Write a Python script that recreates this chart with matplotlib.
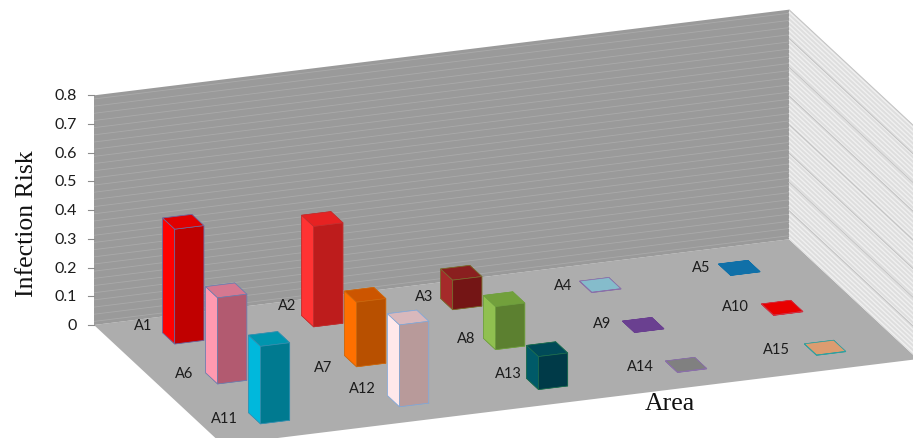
import numpy as np
import matplotlib
matplotlib.use('Agg')
import matplotlib.pyplot as plt
from matplotlib.lines import Line2D
from mpl_toolkits.mplot3d import proj3d
from mpl_toolkits.mplot3d.art3d import Poly3DCollection, Line3DCollection

# rows run back to front as A1-A5, A6-A10, A11-A15
area_labels = [['A1', 'A2', 'A3', 'A4', 'A5'],
               ['A6', 'A7', 'A8', 'A9', 'A10'],
               ['A11', 'A12', 'A13', 'A14', 'A15']]
infection_risk = [[0.40, 0.35, 0.103, 0.001, 0.001],
                  [0.30, 0.225, 0.15, 0.001, 0.001],
                  [0.27, 0.285, 0.115, 0.001, 0.001]]
z_ticks = [0, 0.1, 0.2, 0.3, 0.4, 0.5, 0.6, 0.7, 0.8]
z_tick_labels = ['0', '0.1', '0.2', '0.3', '0.4', '0.5', '0.6', '0.7', '0.8']

# (left face, front face, top face, edge) for each bar
bar_colors = [
    [('#ff0000', '#c00000', '#e00000', '#6a70a8'), ('#ff3333', '#bd1c1c', '#e62222', '#c03030'),
     ('#a52a2a', '#741515', '#8a1f1f', '#7a7030'), ('#8fc6d6', '#8fc6d6', '#85bccb', '#8a70a8'),
     ('#1070a8', '#1070a8', '#1070a8', '#1070a8')],
    [('#ff99b0', '#b25a70', '#d57890', '#6a7fb0'), ('#ff7000', '#b85000', '#cc5500', '#cc6a10'),
     ('#90c050', '#5c8030', '#72a03c', '#70a040'), ('#6a4090', '#6a4090', '#6a4090', '#6a4090'),
     ('#e80000', '#e80000', '#e80000', '#d03040'), ],
    [('#00b8dc', '#007a90', '#0095ae', '#3a90b0'), ('#ffe8ea', '#b89a9a', '#d8b8bc', '#80a8d8'),
     ('#005a68', '#003a48', '#004a58', '#207050'), ('#808080', '#808080', '#808080', '#8a70a8'),
     ('#dc9c70', '#dc9c70', '#dc9c70', '#30a0a0')],
]

# pixel nudges of the area names away from the foot of their bars
label_nudges = [[(-42, -10), (-37, -13), (-39, -5), (-39, 1), (-40, 0)],
                [(-44, -2), (-44, 9), (-40, -3), (-43, -1), (-48, -1)],
                [(-46, 3), (-47, -10), (-40, -8), (-47, 2), (-50, 2)]]

BAR_W = 0.21
BAR_D = 0.28
BAR_SHIFT = 0.012
Z_MAX = 0.8
BOX = (5, 2.544, 1.65)
W, H = 913, 438
SIDE = 1500  # axes square, bigger than the canvas so nothing gets clipped by it

fig = plt.figure(figsize=(W / 100, H / 100), dpi=100)
pos = [(W - SIDE) / 2 / W, (H - SIDE) / 2 / H, SIDE / W, SIDE / H]
ax = fig.add_axes(pos, projection='3d', proj_type='ortho')
ax.set_axis_off()
ax.computed_zorder = False
ax.view_init(elev=19.8, azim=-110)

# walls and floor
ax.add_collection3d(Poly3DCollection([[(0, 0, 0), (5, 0, 0), (5, 3, 0), (0, 3, 0)]],
                                     facecolor='#adadad', edgecolor='none', zorder=1), autolim=False)
ax.add_collection3d(Poly3DCollection([[(0, 0, 0), (5, 0, 0), (5, 0, Z_MAX), (0, 0, Z_MAX)]],
                                     facecolor='#9a9a9a', edgecolor='none', zorder=1), autolim=False)
ax.add_collection3d(Poly3DCollection([[(5, 0, 0), (5, 3, 0), (5, 3, Z_MAX), (5, 0, Z_MAX)]],
                                     facecolor='#dedede', edgecolor='none', zorder=1), autolim=False)

# fine stripes on both walls
back_levels = np.arange(0.0125, Z_MAX, 0.025)
side_levels = np.arange(0.008, Z_MAX, 0.016)
back = [[(0, 0, z), (5, 0, z)] for z in back_levels]
side = [[(5, 0, z), (5, 3, z)] for z in side_levels]
ax.add_collection3d(Line3DCollection(back, colors='#aaaaaa', linewidths=0.6, zorder=2), autolim=False)
ax.add_collection3d(Line3DCollection(side, colors='#f0f0f0', linewidths=1.0, zorder=2), autolim=False)
major_side = [[(5, 0, z), (5, 3, z)] for z in z_ticks[1:]]
ax.add_collection3d(Line3DCollection(major_side, colors='#c2c2c2', linewidths=0.7, zorder=2), autolim=False)

# the bars, back row first so nearer ones cover them
for r, row in enumerate(infection_risk):
    for c, h in enumerate(row):
        left, front, top, edge = bar_colors[r][c]
        # bar3d faces: bottom, top, y-, y+, x-, x+
        ax.bar3d(c + 0.5 - BAR_W / 2 - BAR_SHIFT, r + 0.5 - BAR_D / 2, 0, BAR_W, BAR_D, h,
                 color=[front, top, top, front, left, left], shade=False,
                 edgecolor=edge, linewidth=0.5, zsort='max', zorder=10 + r)

ax.set_xlim(0, 5, view_margin=0)
ax.set_ylim(3, 0, view_margin=0)
ax.set_zlim(0, Z_MAX, view_margin=0)

ax.set_box_aspect(BOX)
fig.canvas.draw()


def to_px(x, y, z):
    u, v, _ = proj3d.proj_transform(x, y, z, ax.get_proj())
    return ax.transData.transform((u, v))


# scale and shift the box so the back floor edge lands where it should
a, b = to_px(0, 0, 0), to_px(5, 0, 0)
ax.set_box_aspect(BOX, zoom=695.0 / (b[0] - a[0]))
fig.canvas.draw()
a = to_px(0, 0, 0)
pos[0] += (94 - a[0]) / W
pos[1] += (H - 325 - a[1]) / H
ax.set_position(pos)
fig.canvas.draw()

for r, row in enumerate(area_labels):
    for c, name in enumerate(row):
        px, py = to_px(c + 0.5, r + 0.5, 0)
        nx, ny = label_nudges[r][c]
        fig.text((px + nx) / W, (py - ny) / H, name, ha='center', va='center',
                 fontsize=10.5, family='Lato', color='#1c1c1c')

# value axis ticks and labels along the left edge of the back wall
for z, lab in zip(z_ticks, z_tick_labels):
    px, py = to_px(0, 0, z)
    fig.add_artist(Line2D([(px - 6) / W, px / W], [py / H, py / H], color='#8c8c8c', linewidth=0.8))
    fig.text((px - 17) / W, (py - 1) / H, lab, ha='right', va='center',
             fontsize=11.5, family='Lato', color='#1c1c1c')

fig.text(27 / W, 1 - 224 / H, 'Infection Risk', rotation=90, ha='center', va='center',
         fontsize=18.5, family='Liberation Serif', color='#111111')
fig.text(670 / W, 1 - 404 / H, 'Area', ha='center', va='center',
         fontsize=18.5, family='Liberation Serif', color='#111111')

fig.savefig('out.png', dpi=100)
